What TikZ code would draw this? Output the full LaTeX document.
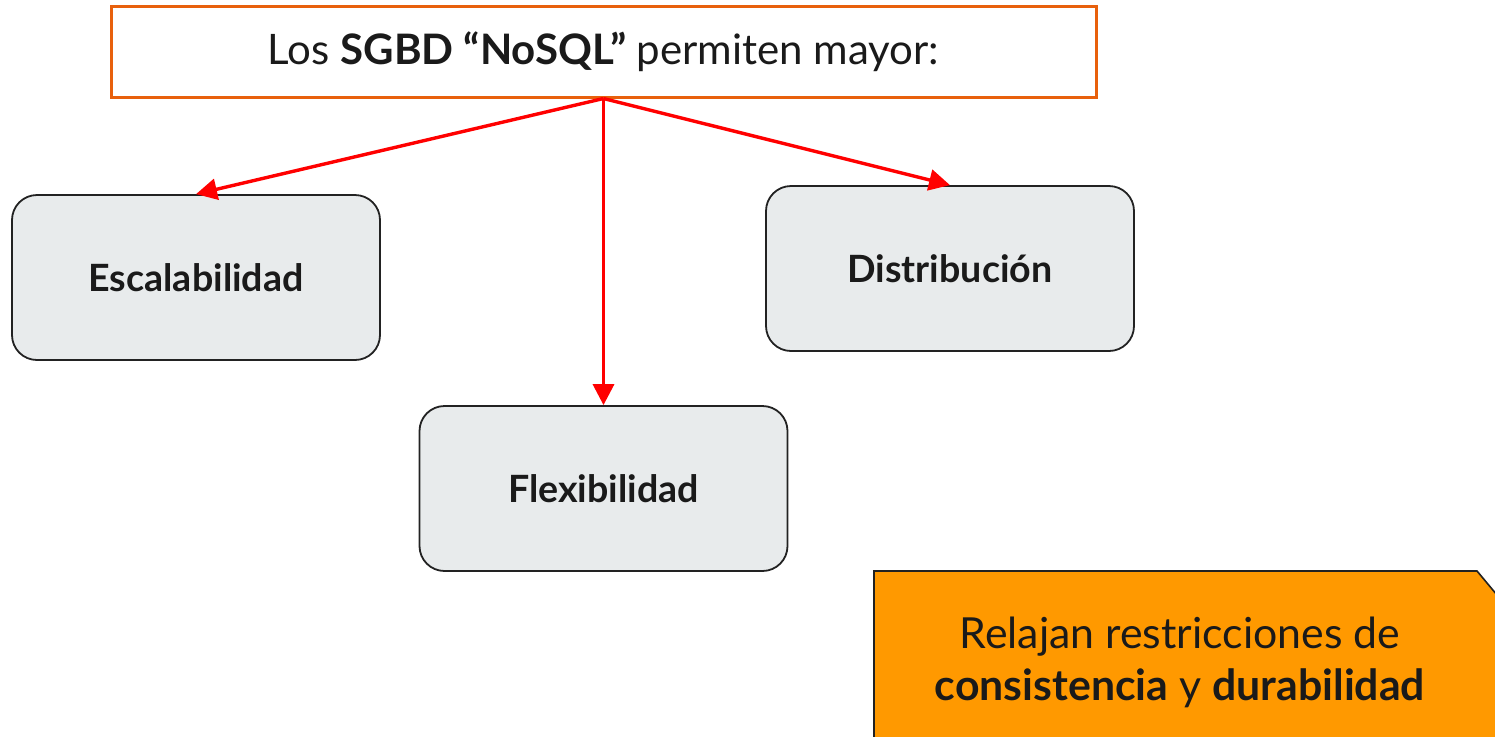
\documentclass[tikz,border=0pt]{standalone}
\usepackage{fontspec}
\setmainfont{Lato}
\usetikzlibrary{arrows.meta}
\definecolor{topor}{HTML}{E8600C}
\definecolor{boxfill}{HTML}{E8EBEC}
\definecolor{boxline}{HTML}{222222}
\definecolor{notefill}{HTML}{FF9900}
\definecolor{txt}{HTML}{1A1A1A}
\definecolor{arr}{HTML}{FF0000}
\tikzset{
  topbox/.style={draw=topor, line width=1.5pt, fill=white, minimum width=492.5pt, minimum height=45.5pt, inner sep=0pt, text=txt, font=\fontsize{21}{26}\selectfont},
  itembox/.style={draw=boxline, line width=0.9pt, fill=boxfill, rounded corners=12.5pt, minimum width=184pt, minimum height=82.5pt, inner sep=0pt, text=txt, font=\fontsize{18.8}{22}\selectfont\bfseries},
  redarrow/.style={draw=arr, line width=1.7pt, -{Triangle[length=10.5pt,width=10.5pt]}},
}
\begin{document}
\begin{tikzpicture}[x=0.5pt,y=-0.5pt]
\useasboundingbox (0,0) rectangle (1495,736);
\node[topbox] (top) at (603.5,51.5) {Los \textbf{SGBD “NoSQL”} permiten mayor:};
\node[itembox] (esc) at (196,277.5) {Escalabilidad};
\node[itembox] (dis) at (950,268.5) {Distribución};
\node[itembox] (fle) at (603.5,488.5) {Flexibilidad};
\draw[redarrow] (top.south) -- (esc.north);
\draw[redarrow] (top.south) -- (fle.north);
\draw[redarrow] (top.south) -- (dis.north);
\path[fill=notefill, draw=boxline, line width=0.8pt] (874,740) -- (874,571) -- (1477,571) -- (1497,595) -- (1497,740);
\node[text=txt, align=center, font=\fontsize{21.4}{26}\selectfont] (note) at (1180,662) {Relajan restricciones de\\\textbf{consistencia} y \textbf{durabilidad}};
\end{tikzpicture}
\end{document}
